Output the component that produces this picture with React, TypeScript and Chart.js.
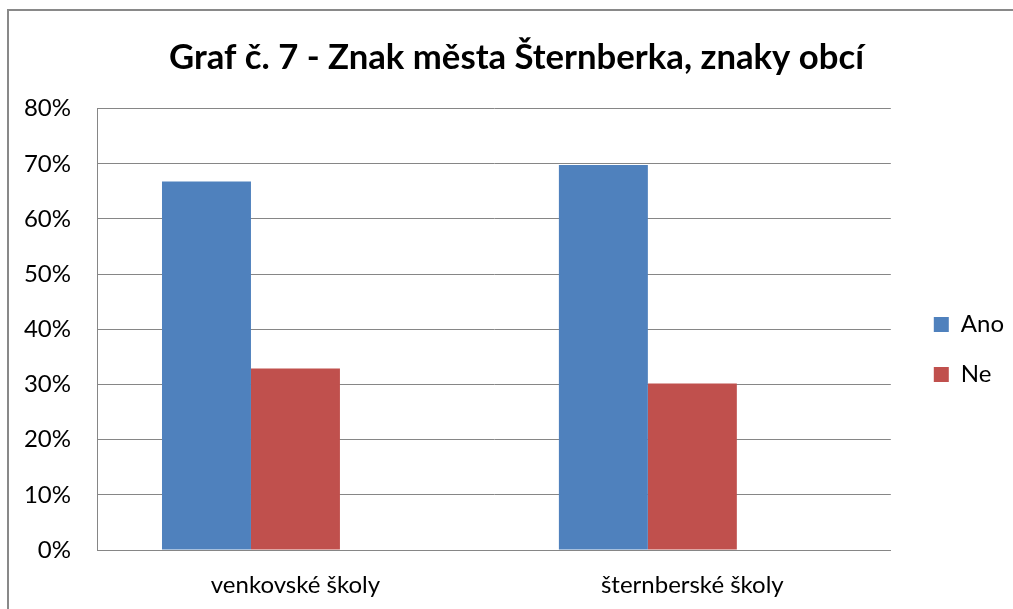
import React, { useEffect, useRef } from 'react';
import { Chart, registerables } from 'chart.js';

Chart.register(...registerables);

const titleText = 'Graf č. 7 - Znak města Šternberka, znaky obcí';
const categories = ['venkovské školy', 'šternberské školy'];
const anoValues = [66.8, 69.8];
const neValues = [32.9, 30.2];
const emptySeries = [null, null];
const yMin = 0;
const yMax = 80;
const yStep = 10;

const FONT = 'Lato, "Open Sans", sans-serif';
const GRID = '#868686';

const boxShift = {
  id: 'boxShift',
  afterLayout(chart: any) {
    const lg = chart.legend;
    if (lg) {
      lg.left += 17;
      lg.right += 17;
      lg.top += 45;
      lg.bottom += 45;
    }
    const tb = chart.titleBlock;
    if (tb) {
      tb.left += 18;
      tb.right += 18;
    }
  },
};

export default function App() {
  const ref = useRef<HTMLCanvasElement | null>(null);
  useEffect(() => {
    if (!ref.current) return;
    const chart = new Chart(ref.current, {
      type: 'bar',
      data: {
        labels: categories,
        datasets: [
          { label: 'Ano', data: anoValues, backgroundColor: '#4F81BD', borderWidth: 0 },
          { label: 'Ne', data: neValues, backgroundColor: '#C0504D', borderWidth: 0 },
          { label: '', data: emptySeries as any, backgroundColor: 'transparent', borderWidth: 0 },
        ],
      },
      options: {
        responsive: false,
        animation: false,
        layout: { padding: { left: 0, right: 16, top: 0, bottom: 0 } },
        datasets: { bar: { categoryPercentage: 0.6725, barPercentage: 1 } } as any,
        plugins: {
          title: {
            display: true,
            text: titleText,
            color: '#000',
            font: { family: FONT, size: 34.7, weight: 'bold', lineHeight: 1.2 },
            padding: { top: 37, bottom: 30 },
          },
          legend: {
            position: 'right',
            labels: {
              color: '#000',
              font: { family: FONT, size: 24 },
              boxWidth: 15,
              boxHeight: 15,
              padding: 26,
              filter: (item: any) => item.text !== '',
            },
          },
          tooltip: { enabled: false },
        },
        scales: {
          x: {
            grid: { display: false, drawTicks: false },
            border: { display: true, color: GRID, width: 1 },
            ticks: { color: '#000', font: { family: FONT, size: 24 }, padding: 21 },
            afterFit: (s: any) => { s.height = 59; },
          },
          y: {
            min: yMin,
            max: yMax,
            grid: { color: GRID, lineWidth: 1, drawTicks: false },
            border: { display: true, color: GRID, width: 1 },
            ticks: {
              stepSize: yStep,
              color: '#000',
              font: { family: FONT, size: 24 },
              padding: 26,
              callback: (v: any) => v + '%',
            },
            afterFit: (s: any) => { s.width = 97; },
          },
        },
      },
      plugins: [boxShift],
    });
    return () => chart.destroy();
  }, []);

  return (
    <div style={{ position: 'fixed', left: 0, top: 0, width: 1013, height: 609, overflow: 'hidden', background: '#fff' }}>
      <div
        style={{
          position: 'absolute',
          left: 7,
          top: 9,
          width: 1100,
          height: 700,
          borderLeft: '2px solid #898989',
          borderTop: '2px solid #898989',
        }}
      />
      <canvas ref={ref} width={1013} height={609} style={{ position: 'absolute', left: 0, top: 0 }} />
    </div>
  );
}
